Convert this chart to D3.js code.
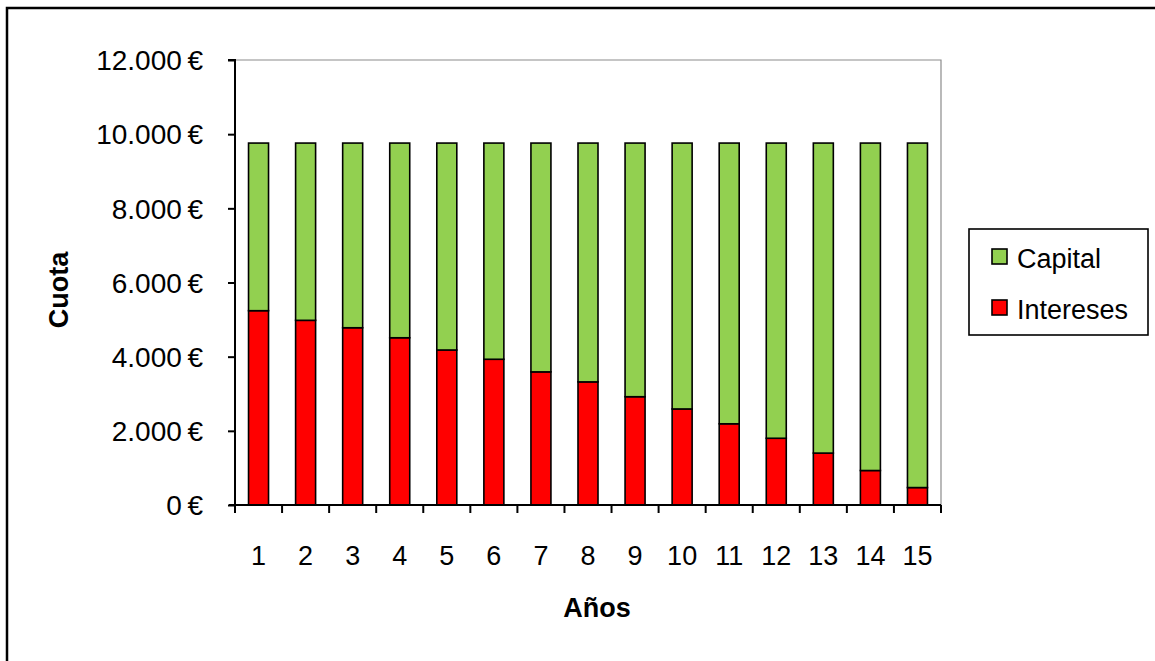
<!DOCTYPE html>
<html>
<head>
<meta charset="utf-8">
<script src="https://cdn.jsdelivr.net/npm/d3@7"></script>
<style>
  html, body { margin: 0; padding: 0; background: #fff; }
  svg { display: block; font-family: "Liberation Sans", Arial, sans-serif; }
</style>
</head>
<body>
<svg id="chart" width="1155" height="661"></svg>
<script>
// Loan repayment: yearly instalment split into principal and interest
const years = ["1","2","3","4","5","6","7","8","9","10","11","12","13","14","15"];
const intereses = [5240, 4980, 4780, 4510, 4180, 3930, 3590, 3320, 2920, 2590, 2190, 1800, 1400, 930, 470];
const capital   = [4520, 4780, 4980, 5250, 5580, 5830, 6170, 6440, 6840, 7170, 7570, 7960, 8360, 8830, 9290];
const yTicks = [0, 2000, 4000, 6000, 8000, 10000, 12000];
const seriesNames = ["Intereses", "Capital"];
const seriesColors = { Capital: "#92D050", Intereses: "#FF0000" };

const svg = d3.select("#chart");
const plot = { left: 235, right: 941, top: 60, bottom: 505 };
const FONT = 27;

// outer chart frame
svg.append("rect")
  .attr("x", 7).attr("y", 8).attr("width", 1200).attr("height", 700)
  .attr("fill", "#fff").attr("stroke", "#000").attr("stroke-width", 2.5);

const x = d3.scaleBand()
  .domain(years)
  .range([plot.left, plot.right])
  .paddingInner(0.575)
  .paddingOuter(0.2875);

const y = d3.scaleLinear()
  .domain([0, 12000])
  .range([plot.bottom, plot.top]);

const rows = years.map((yr, i) => ({ year: yr, Intereses: intereses[i], Capital: capital[i] }));
const stacked = d3.stack().keys(seriesNames)(rows);

// plot area top/right edges
svg.append("path")
  .attr("d", `M${plot.left},${plot.top}H${plot.right}V${plot.bottom}`)
  .attr("fill", "none").attr("stroke", "#8c8c8c").attr("stroke-width", 1.2);

// stacked bars
svg.append("g").selectAll("g")
  .data(stacked)
  .join("g")
  .attr("fill", d => seriesColors[d.key])
  .selectAll("rect")
  .data(d => d)
  .join("rect")
  .attr("x", d => x(d.data.year))
  .attr("width", x.bandwidth())
  .attr("y", d => y(d[1]))
  .attr("height", d => y(d[0]) - y(d[1]))
  .attr("stroke", "#000")
  .attr("stroke-width", 1.6);

const euro = d => d3.format(",")(d).replace(/,/g, ".") + "\u2009€";

// y axis
const yAxis = svg.append("g")
  .attr("transform", `translate(${plot.left},0)`)
  .call(d3.axisLeft(y).tickValues(yTicks).tickSize(7).tickPadding(0).tickFormat(euro));
yAxis.select(".domain").attr("stroke", "#000").attr("stroke-width", 2).attr("d", `M-7,${plot.top}H0V${plot.bottom}`);
yAxis.selectAll(".tick line").attr("stroke", "#000").attr("stroke-width", 2);
yAxis.selectAll(".tick text")
  .attr("x", -32)
  .attr("dy", "0.35em")
  .attr("fill", "#000")
  .style("font-size", "28px")
  .style("font-family", "'Liberation Sans', Arial, sans-serif");

// x axis with ticks on category boundaries
const xAxis = svg.append("g")
  .attr("transform", `translate(0,${plot.bottom})`);
xAxis.append("line")
  .attr("x1", plot.left - 6).attr("x2", plot.right)
  .attr("stroke", "#000").attr("stroke-width", 2);
const bounds = d3.range(years.length + 1).map(i => plot.left + i * x.step());
xAxis.selectAll(".bt")
  .data(bounds)
  .join("line")
  .attr("x1", d => d).attr("x2", d => d)
  .attr("y1", 0).attr("y2", 8)
  .attr("stroke", "#000").attr("stroke-width", 2);
xAxis.selectAll(".lbl")
  .data(years)
  .join("text")
  .attr("x", d => x(d) + x.bandwidth() / 2)
  .attr("y", 60)
  .attr("text-anchor", "middle")
  .style("font-size", FONT + "px")
  .text(d => d);

// axis titles
svg.append("text")
  .attr("x", 597).attr("y", 617)
  .attr("text-anchor", "middle")
  .style("font-size", FONT + "px").style("font-weight", "bold")
  .text("Años");

svg.append("text")
  .attr("transform", "translate(68,290) rotate(-90)")
  .attr("text-anchor", "middle")
  .style("font-size", FONT + "px").style("font-weight", "bold")
  .text("Cuota");

// legend
const legend = svg.append("g");
legend.append("rect")
  .attr("x", 969).attr("y", 229).attr("width", 179).attr("height", 106)
  .attr("fill", "#fff").attr("stroke", "#000").attr("stroke-width", 1.6);
const legendItems = ["Capital", "Intereses"];
legend.selectAll("g.item")
  .data(legendItems)
  .join("g")
  .attr("transform", (d, i) => `translate(992,${249 + i * 51})`)
  .each(function (d) {
    const g = d3.select(this);
    g.append("rect").attr("width", 15).attr("height", 15)
      .attr("fill", seriesColors[d]).attr("stroke", "#000").attr("stroke-width", 1.6);
    g.append("text").attr("x", 25).attr("y", 19)
      .style("font-size", FONT + "px").text(d);
  });
</script>
</body>
</html>
